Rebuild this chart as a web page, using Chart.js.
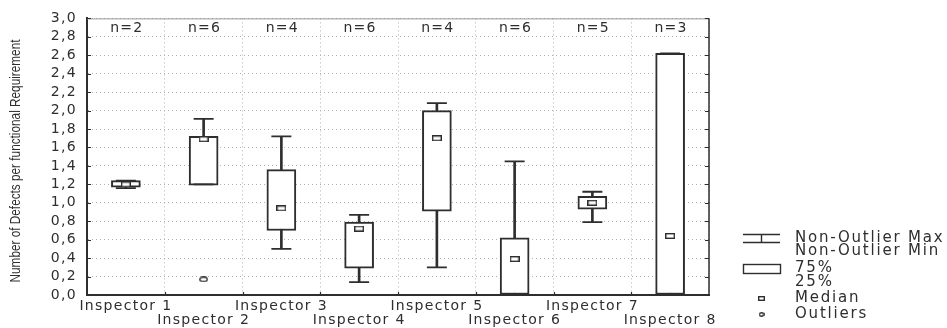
<!DOCTYPE html>
<html>
<head>
<meta charset="utf-8">
<script src="https://cdn.jsdelivr.net/npm/chart.js@4.4.1/dist/chart.umd.min.js"></script>
<style>
  html, body { margin: 0; padding: 0; background: #fff; }
</style>
</head>
<body>
<canvas id="myChart" width="947" height="328"></canvas>
<script>
// data
var inspectors = ["Inspector 1", "Inspector 2", "Inspector 3", "Inspector 4",
                  "Inspector 5", "Inspector 6", "Inspector 7", "Inspector 8"];
var counts = [2, 6, 4, 6, 4, 6, 5, 3];
var whiskerMin = [1.16, 1.20, 0.50, 0.14, 0.30, 0.00, 0.79, 0.00];
var whiskerMax = [1.24, 1.91, 1.72, 0.87, 2.08, 1.45, 1.12, 2.62];
var q1 = [1.17, 1.19, 0.70, 0.29, 0.91, 0.00, 0.93, 0.00];
var q3 = [1.24, 1.72, 1.36, 0.79, 2.00, 0.62, 1.07, 2.62];
var medians = [1.20, 1.69, 0.94, 0.72, 1.70, 0.39, 1.00, 0.64];
var outliers = [null, 0.17, null, null, null, null, null, null];
var yTitle = "Number of Defects per functional Requirement";
var legendLines = ["Non-Outlier Max", "Non-Outlier Min", "75%", "25%", "Median", "Outliers"];

var ink = "#2e2e2e";
var font = '"DejaVu Sans"';

// little canvases used as point marks
function makeMark(w, h, shape) {
  var c = document.createElement("canvas");
  c.width = w; c.height = h;
  var g = c.getContext("2d");
  g.fillStyle = "#fff";
  g.strokeStyle = ink;
  g.lineWidth = 1.4;
  if (shape === "rect") {
    g.fillRect(0.7, 0.7, w - 1.4, h - 1.4);
    g.strokeRect(0.7, 0.7, w - 1.4, h - 1.4);
  } else {
    g.beginPath();
    g.ellipse(w / 2, h / 2, w / 2 - 0.8, h / 2 - 0.8, 0, 0, Math.PI * 2);
    g.fill();
    g.stroke();
  }
  return c;
}
var medianMark = makeMark(10, 6, "rect");
var outlierMark = makeMark(9, 6, "ellipse");

var boxData = inspectors.map(function (_, i) { return [q1[i], q3[i]]; });
var whiskerData = inspectors.map(function (_, i) { return [whiskerMin[i], whiskerMax[i]]; });

var extras = {
  id: "extras",
  beforeDraw: function (chart) {
    chart.ctx.letterSpacing = "1.3px";
  },
  afterDraw: function (chart) {
    var ctx = chart.ctx, a = chart.chartArea, xs = chart.scales.x, ys = chart.scales.y;
    ctx.save();
    // top and right frame
    ctx.strokeStyle = "#999";
    ctx.lineWidth = 1;
    ctx.beginPath();
    ctx.moveTo(a.left, a.top + 0.5);
    ctx.lineTo(a.right, a.top + 0.5);
    ctx.stroke();
    ctx.strokeStyle = ink;
    ctx.lineWidth = 1.5;
    ctx.beginPath();
    ctx.moveTo(a.right, a.top);
    ctx.lineTo(a.right, a.bottom);
    ctx.stroke();
    // inward tick marks
    ctx.lineWidth = 1.2;
    ys.ticks.forEach(function (t) {
      var p = Math.round(ys.getPixelForValue(t.value)) + 0.5;
      ctx.beginPath();
      ctx.moveTo(a.left, p); ctx.lineTo(a.left + 4, p);
      ctx.moveTo(a.right - 4, p); ctx.lineTo(a.right, p);
      ctx.stroke();
    });
    var step = (a.right - a.left) / inspectors.length;
    for (var k = 1; k < inspectors.length; k++) {
      var px = Math.round(a.left + k * step) + 0.5;
      ctx.beginPath();
      ctx.moveTo(px, a.bottom); ctx.lineTo(px, a.bottom - 3);
      ctx.stroke();
    }
    // n= labels
    ctx.fillStyle = ink;
    ctx.font = "14px " + font;
    ctx.letterSpacing = "1.3px";
    ctx.textAlign = "center";
    ctx.textBaseline = "middle";
    counts.forEach(function (n, i) {
      ctx.fillText("n=" + n, xs.getPixelForValue(i) + 1, a.top + 10);
    });
    // y title, squeezed to the narrow look of the original
    ctx.save();
    ctx.letterSpacing = "0px";
    ctx.font = '15px "Liberation Sans"';
    var tw = ctx.measureText(yTitle).width;
    ctx.translate(16, 161);
    ctx.rotate(-Math.PI / 2);
    ctx.scale(243 / tw, 1);
    ctx.fillText(yTitle, 0, 0);
    ctx.restore();
    // legend
    var lx = a.right + 34, lw = 37, tx = a.right + 86;
    ctx.lineWidth = 1.4;
    ctx.beginPath();
    ctx.moveTo(lx, 234.5); ctx.lineTo(lx + lw, 234.5);
    ctx.moveTo(lx, 242.5); ctx.lineTo(lx + lw, 242.5);
    ctx.moveTo(lx + lw / 2, 234.5); ctx.lineTo(lx + lw / 2, 242.5);
    ctx.stroke();
    ctx.strokeRect(lx + 0.5, 264.5, lw, 9);
    ctx.drawImage(makeMark(7, 5, "rect"), lx + 15, 296);
    ctx.drawImage(makeMark(6, 5, "ellipse"), lx + 15.5, 312);
    ctx.font = "15px " + font;
    ctx.letterSpacing = "1.8px";
    ctx.textAlign = "left";
    var ly = [238, 251, 268, 282, 298, 314];
    legendLines.forEach(function (s, i) { ctx.fillText(s, tx, ly[i]); });
    ctx.restore();
  }
};

var ctx = document.getElementById("myChart").getContext("2d");
var myChart = new Chart(ctx, {
  type: "bar",
  data: {
    labels: inspectors,
    datasets: [
      {
        label: "whisker",
        data: whiskerData,
        backgroundColor: ink,
        borderWidth: 0,
        barThickness: 2,
        grouped: false,
        order: 5
      },
      {
        label: "box",
        data: boxData,
        backgroundColor: "#fff",
        borderColor: ink,
        borderWidth: 2,
        borderSkipped: false,
        barThickness: 29,
        grouped: false,
        order: 4
      },
      {
        type: "line",
        label: "max",
        data: whiskerMax,
        showLine: false,
        pointStyle: "line",
        pointRadius: 10,
        pointBorderColor: ink,
        pointBorderWidth: 1.8,
        order: 3
      },
      {
        type: "line",
        label: "min",
        data: whiskerMin,
        showLine: false,
        pointStyle: "line",
        pointRadius: 10,
        pointBorderColor: ink,
        pointBorderWidth: 1.8,
        order: 3
      },
      {
        type: "line",
        label: "median",
        data: medians,
        showLine: false,
        pointStyle: medianMark,
        order: 1
      },
      {
        type: "line",
        label: "outliers",
        data: outliers,
        showLine: false,
        pointStyle: outlierMark,
        order: 1
      }
    ]
  },
  options: {
    responsive: false,
    devicePixelRatio: 1,
    animation: false,
    events: [],
    layout: { padding: { left: 0, right: 238, top: 10, bottom: 0 } },
    plugins: { legend: { display: false }, tooltip: { enabled: false } },
    scales: {
      x: {
        grid: { color: "#b0b0b0", drawTicks: false, offset: true },
        border: { color: ink, width: 2, dash: [1, 3] },
        ticks: {
          color: ink,
          font: { family: "DejaVu Sans", size: 14, lineHeight: 1.0 },
          padding: 4,
          maxRotation: 0,
          autoSkip: false,
          callback: function (v, i) {
            return i % 2 === 0 ? inspectors[i] : ["", inspectors[i]];
          }
        },
        afterFit: function (s) { s.height = 33; }
      },
      y: {
        min: 0,
        max: 3,
        grid: { color: "#b0b0b0", drawTicks: false },
        border: { color: ink, width: 2, dash: [1, 3] },
        ticks: {
          stepSize: 0.2,
          autoSkip: false,
          color: ink,
          font: { family: "DejaVu Sans", size: 14 },
          padding: 10,
          callback: function (v) { return v.toFixed(1).replace(".", ","); }
        },
        afterFit: function (s) { s.width = 87; }
      }
    }
  },
  plugins: [extras]
});
</script>
</body>
</html>
